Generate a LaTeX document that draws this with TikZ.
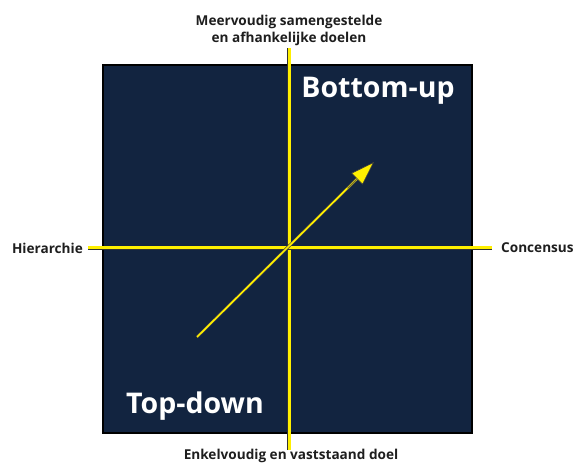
\documentclass[tikz,border=0pt]{standalone}
\usepackage{fontspec}
\setmainfont{Open Sans}
\usetikzlibrary{arrows.meta,calc}
\definecolor{navy}{RGB}{18,36,64}
\definecolor{axisyellow}{RGB}{255,240,0}
\definecolor{labelgray}{RGB}{30,30,30}
\begin{document}
\begin{tikzpicture}[x=1pt,y=1pt,
  axis/.style={draw=black!80,line width=.9pt,double=axisyellow,double distance=3pt},
  shaft/.style={draw=black!75,line width=.6pt,double=axisyellow,double distance=1.7pt},
  side/.style={font=\bfseries\fontsize{13.6}{17.5}\selectfont,text=labelgray,inner sep=0pt},
  corner/.style={font=\bfseries\fontsize{28.5}{30}\selectfont,text=white,inner sep=0pt}]
  \useasboundingbox (0,0) rectangle (575,466);
  \coordinate (SW) at (103,33);
  \coordinate (NE) at (472,401);
  \coordinate (O) at (289,218);
  \coordinate (Top) at (289,418);
  \coordinate (Bot) at (289,16);
  \coordinate (Lft) at (88,218);
  \coordinate (Rgt) at (492,218);
  \coordinate (Tail) at (197,129);
  \coordinate (Tip) at (374,304);
  \fill[navy] (SW) rectangle (NE);
  \draw[black,line width=1.3pt] (SW) rectangle (NE);
  % axes
  \draw[axis] (Bot)--(Top);
  \draw[axis] (Lft)--(Rgt);
  % arrow
  \draw[shaft,shorten >=20pt] (Tail)--(Tip);
  \draw[draw=black!75,line width=.6pt,-{Triangle[length=24pt,width=16pt,fill=axisyellow]}] ($(Tail)!0.85!(Tip)$)--(Tip);
  % labels
  \node[side,anchor=east] (hier) at (83,218) {Hierarchie};
  \node[side,anchor=west] (cons) at (501,218) {Concensus};
  \node[side,anchor=south,align=center] (meer) at (289,420) {Meervoudig samengestelde\\en afhankelijke doelen};
  \node[side,anchor=base] (enkel) at (291,7) {Enkelvoudig en vaststaand doel};
  \node[corner,anchor=base] (bu) at (378,368) {Bottom-up};
  \node[corner,anchor=base] (td) at (195,53) {Top-down};
\end{tikzpicture}
\end{document}
